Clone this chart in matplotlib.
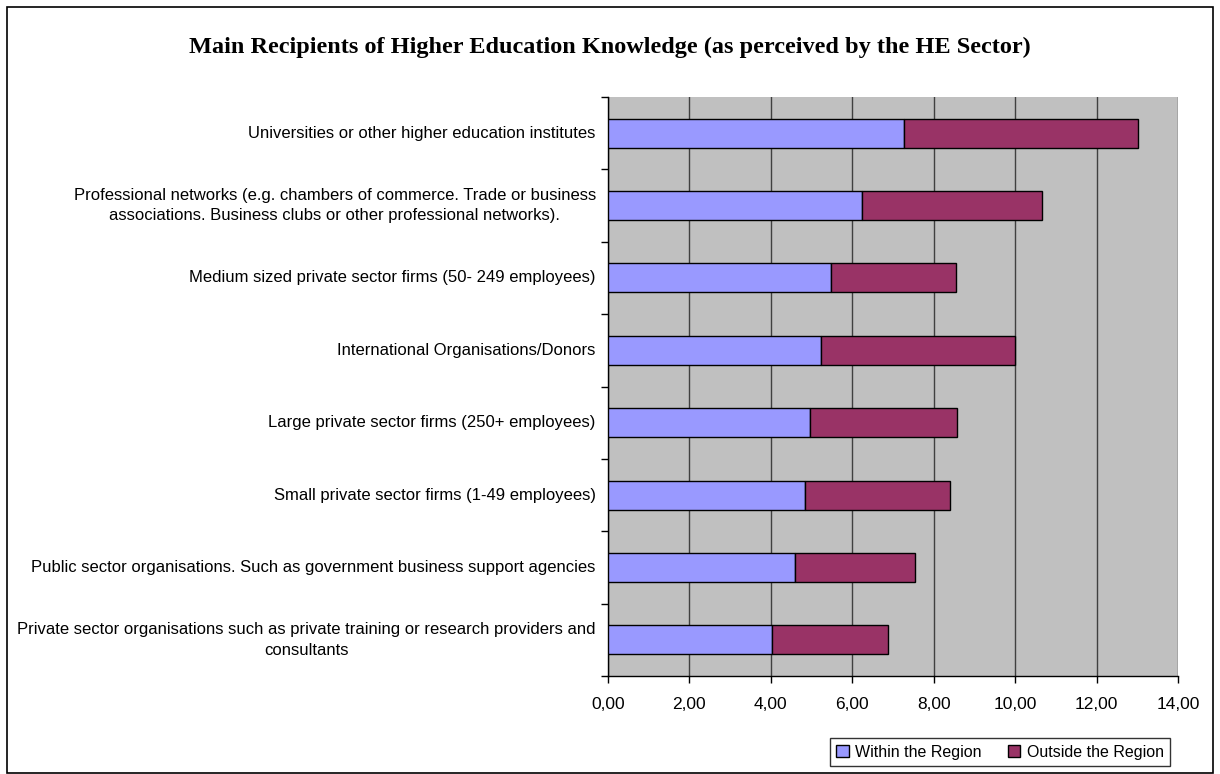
import matplotlib.pyplot as plt
from matplotlib.patches import Rectangle, Patch
from matplotlib.ticker import FuncFormatter

categories = [
    "Universities or other higher education institutes",
    "Professional networks (e.g. chambers of commerce. Trade or business\nassociations. Business clubs or other professional networks).",
    "Medium sized private sector firms (50- 249 employees)",
    "International Organisations/Donors",
    "Large private sector firms (250+ employees)",
    "Small private sector firms (1-49 employees)",
    "Public sector organisations. Such as government business support agencies",
    "Private sector organisations such as private training or research providers and\nconsultants",
]
within = [7.26, 6.24, 5.48, 5.22, 4.97, 4.85, 4.59, 4.04]
outside = [5.75, 4.42, 3.07, 4.78, 3.61, 3.56, 2.94, 2.83]
series_names = ["Within the Region", "Outside the Region"]

BLUE = "#9999FF"
MAROON = "#993366"
W, H = 1220, 774

plt.rcParams['font.family'] = ['Liberation Sans', 'DejaVu Sans']

fig = plt.figure(figsize=(W / 100, H / 100), dpi=100)
ax = fig.add_axes([608 / W, 1 - 676 / H, (1178 - 608) / W, (676 - 97) / H])

# outer chart frame
fig.patches.append(Rectangle((7 / W, 1 / H), 1206 / W, 766 / H, transform=fig.transFigure,
                             fill=False, edgecolor="black", linewidth=1.2))

ypos = list(range(len(categories)))[::-1]
ax.barh(ypos, within, height=0.4, color=BLUE, edgecolor="black", linewidth=1.0, zorder=3)
ax.barh(ypos, outside, left=within, height=0.4, color=MAROON, edgecolor="black", linewidth=1.0, zorder=3)

ax.set_facecolor("#C0C0C0")
ax.set_xlim(0, 14)
ax.set_ylim(-0.5, len(categories) - 0.5)
ax.set_xticks(range(0, 15, 2))
ax.xaxis.set_major_formatter(FuncFormatter(lambda v, p: f"{v:.2f}".replace(".", ",")))
ax.grid(axis="x", color="#404040", linewidth=1.0, zorder=1)

# category boundary ticks; labels drawn as text so multi-line ones can be centred
ax.set_yticks([i - 0.5 for i in range(len(categories) + 1)])
ax.set_yticklabels([])
ax.tick_params(axis="y", length=5, width=1, direction="out")
ax.tick_params(axis="x", length=5, width=1, direction="out", labelsize=12.5, pad=10)
for y, lab in zip(ypos, categories):
    ax.text(-0.3, y, lab, ha="right", va="center", fontsize=12, multialignment="center",
            linespacing=1.45)

for s in ["top", "right"]:
    ax.spines[s].set_visible(False)
ax.spines["left"].set_linewidth(1.0)
ax.spines["bottom"].set_linewidth(1.0)

fig.text(0.5, 1 - 47 / H, "Main Recipients of Higher Education Knowledge (as perceived by the HE Sector)",
         ha="center", va="center", fontsize=17.5, fontweight="bold", family=["Liberation Serif"])

handles = [Patch(facecolor=BLUE, edgecolor="black"), Patch(facecolor=MAROON, edgecolor="black")]
leg = fig.legend(handles, series_names, loc="center", bbox_to_anchor=(1000 / W, 1 - 752 / H),
                 ncol=2, fontsize=11.5, frameon=True, fancybox=False, handlelength=0.8, handleheight=0.8,
                 handletextpad=0.4, columnspacing=1.6, borderpad=0.4)
leg.get_frame().set_edgecolor("black")
leg.get_frame().set_linewidth(1.0)

fig.savefig("out.png", dpi=100)
